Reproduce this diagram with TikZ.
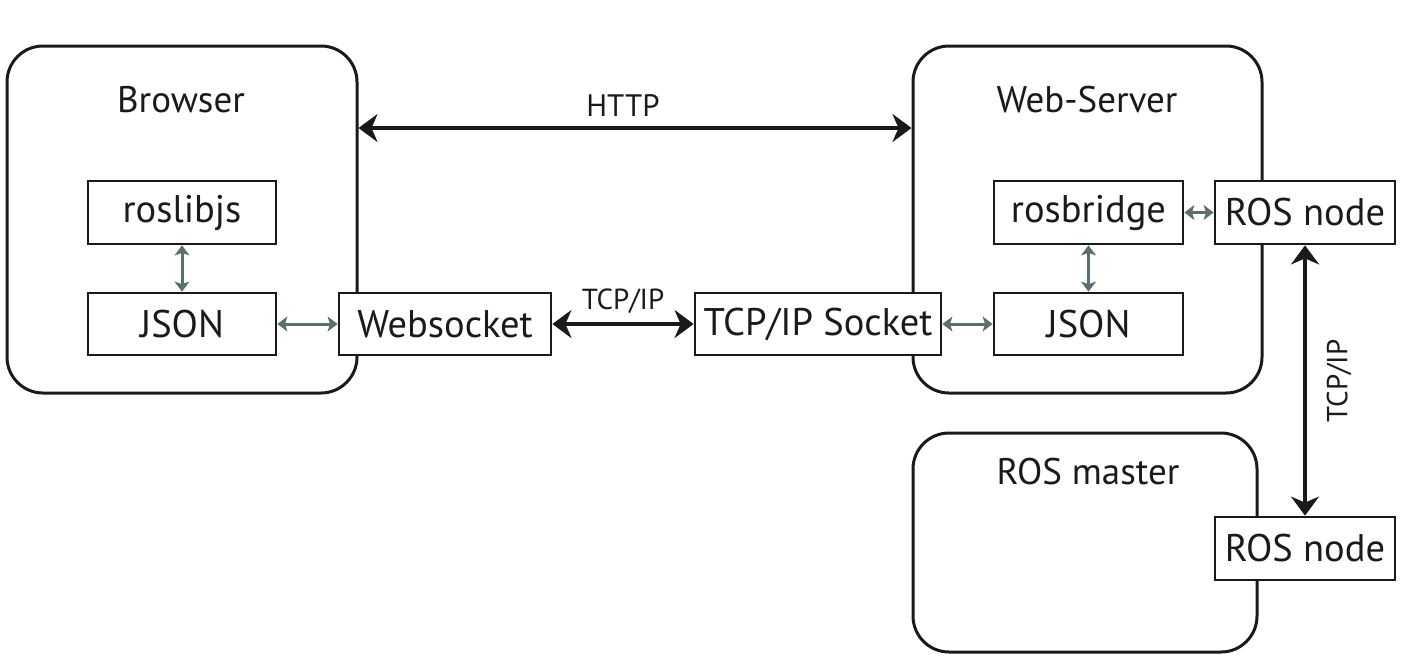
\documentclass[tikz,border=0pt]{standalone}
\usepackage{fontspec}
\setmainfont{PT Sans}
\usetikzlibrary{arrows.meta,calc}
\definecolor{linkgray}{HTML}{5B6F70}
\definecolor{ink}{HTML}{1A1A1A}
\tikzset{
  container/.style={draw=ink, line width=3pt, rounded corners=36pt, inner sep=0pt},
  comp/.style={draw=ink, line width=2.8pt, fill=white, inner sep=0pt, font=\fontsize{38.5}{42}\selectfont, text=ink},
  title/.style={font=\fontsize{37}{40}\selectfont, text=ink, inner sep=0pt},
  proto/.style={font=\fontsize{29}{32}\selectfont, text=ink, inner sep=0pt},
  big/.style={draw=ink, line width=3.6pt, {Stealth[length=19pt,width=28pt,inset=6pt]}-{Stealth[length=19pt,width=28pt,inset=6pt]}},
  small/.style={draw=linkgray, line width=3pt, {Stealth[length=10pt,width=15pt,inset=2.5pt]}-{Stealth[length=10pt,width=15pt,inset=2.5pt]}}
}
\begin{document}
\begin{tikzpicture}[x=1pt,y=-1pt]
\useasboundingbox (0,0) rectangle (1412,664);
% containers
\node[container, minimum width=350pt, minimum height=347pt] (browser) at (182,219.5) {};
\node[container, minimum width=349pt, minimum height=347pt] (webserver) at (1087.5,219.5) {};
\node[container, minimum width=344pt, minimum height=219pt] (rosmaster) at (1085,542.5) {};
\node[title] (browserlbl) at (181,100) {Browser};
\node[title] (webserverlbl) at (1087,100) {Web-Server};
\node[title] (rosmasterlbl) at (1088,472) {ROS master};
% components
\node[comp, minimum width=188pt, minimum height=63pt] (roslibjs) at (182,212.5) {roslibjs};
\node[comp, minimum width=188pt, minimum height=62pt] (jsonL) at (182,324) {JSON};
\node[comp, minimum width=212pt, minimum height=62pt] (websocket) at (445,324) {Websocket};
\node[comp, minimum width=246pt, minimum height=62pt] (tcpsock) at (818,324) {TCP/IP Socket};
\node[comp, minimum width=189pt, minimum height=63pt] (rosbridge) at (1088.5,212.5) {rosbridge};
\node[comp, minimum width=189pt, minimum height=62pt] (jsonR) at (1088.5,324) {JSON};
\node[comp, minimum width=180pt, minimum height=63pt] (rosnodeA) at (1305,212.5) {ROS node};
\node[comp, minimum width=180pt, minimum height=63pt] (rosnodeB) at (1305,548.5) {ROS node};
% HTTP
\coordinate (hy) at (0,128);
\draw[big] (browser.east |- hy) -- (webserver.west |- hy);
\node[proto, font=\fontsize{31}{34}\selectfont] (httplbl) at (623,106) {HTTP};
% TCP/IP horizontal
\draw[big] (websocket.east) -- (tcpsock.west);
\node[proto] (tcplbl) at (623,301) {TCP/IP};
% TCP/IP vertical
\draw[big] (rosnodeA.south) -- (rosnodeB.north);
\node[proto, rotate=90] (tcpvlbl) at (1339,381) {TCP/IP};
% gray links
\draw[small] (roslibjs.south) -- (jsonL.north);
\draw[small] (jsonL.east) -- (websocket.west);
\draw[small] (tcpsock.east) -- (jsonR.west);
\draw[small] (rosbridge.south) -- (jsonR.north);
\draw[small] (rosbridge.east) -- (rosnodeA.west);
\end{tikzpicture}
\end{document}
